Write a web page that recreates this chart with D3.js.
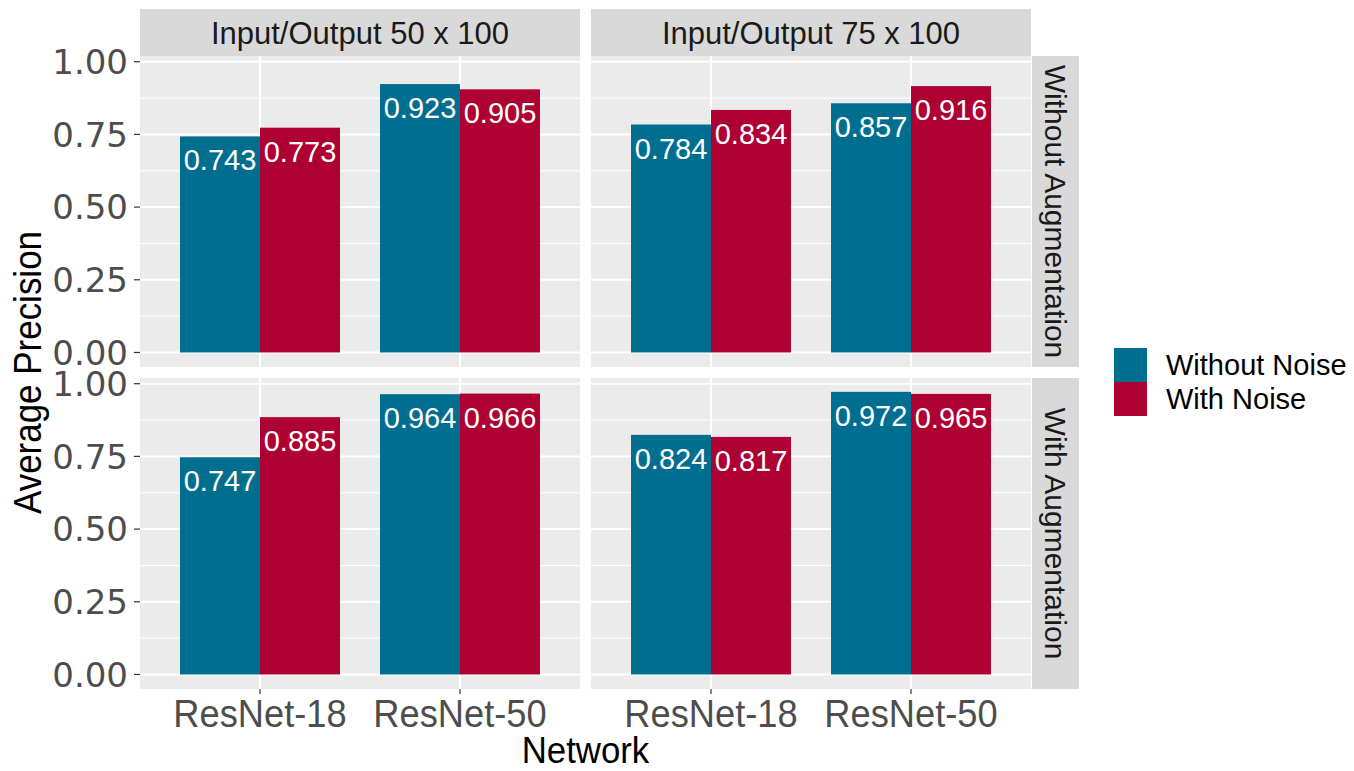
<!DOCTYPE html>
<html><head><meta charset="utf-8">
<script src="https://cdn.jsdelivr.net/npm/d3@7"></script>
<style>body{margin:0;background:#fff}</style>
</head><body><svg id="c" width="1354" height="771"></svg>
<script>
// ---- data ----
const sizeFacets = ["Input/Output 50 x 100", "Input/Output 75 x 100"];
const augFacets = ["Without Augmentation", "With Augmentation"];
const networks = ["ResNet-18", "ResNet-50"];
const noiseLevels = ["Without Noise", "With Noise"];
const yTicks = [0, 0.25, 0.5, 0.75, 1.0];
// values indexed [augmentation][size][network]
const withoutNoise = [
  [[0.743, 0.923], [0.784, 0.857]],
  [[0.747, 0.964], [0.824, 0.972]]
];
const withNoise = [
  [[0.773, 0.905], [0.834, 0.916]],
  [[0.885, 0.966], [0.817, 0.965]]
];
const seriesValues = [withoutNoise, withNoise];
const colors = ["#006E8E", "#AE0033"];

// ---- layout ----
const svg = d3.select("#c");
const panelX = [140, 591];
const panelW = 440;
const panelY = [56, 378];
const panelH = 311;
const stripTop = 9;
const stripRightX = 1032, stripRightW = 47;
const narrow = 0.93;

// ggplot discrete: expansion 0.6 units each side, 1 unit per category
const unit = panelW / 2.2;
const xc = d3.scalePoint().domain(networks).range([unit * 0.6, panelW - unit * 0.6]);
const barW = unit * 0.8 / 2;
const xs = d3.scaleBand().domain(noiseLevels).range([-barW, barW]);
const y = d3.scaleLinear().domain([-0.05, 1.0196]).range([panelH, 0]);

const fmt = d3.format(".3f");
const fmt2 = d3.format(".2f");
const SANS = "Liberation Sans, Arial, sans-serif";

augFacets.forEach((aug, ai) => {
  sizeFacets.forEach((sz, si) => {
    const g = svg.append("g").attr("transform", `translate(${panelX[si]},${panelY[ai]})`);
    g.append("rect").attr("width", panelW).attr("height", panelH).attr("fill", "#EBEBEB");
    const minor = yTicks.slice(0, -1).map(t => t + 0.125);
    g.selectAll(".mn").data(minor).join("line")
      .attr("x1", 0).attr("x2", panelW).attr("y1", d => y(d)).attr("y2", d => y(d))
      .attr("stroke", "#fff").attr("stroke-width", 1);
    g.selectAll(".mj").data(yTicks).join("line")
      .attr("x1", 0).attr("x2", panelW).attr("y1", d => y(d)).attr("y2", d => y(d))
      .attr("stroke", "#fff").attr("stroke-width", 2);
    g.selectAll(".vx").data(networks).join("line")
      .attr("x1", d => xc(d)).attr("x2", d => xc(d)).attr("y1", 0).attr("y2", panelH)
      .attr("stroke", "#fff").attr("stroke-width", 2);
    networks.forEach((net, ni) => {
      noiseLevels.forEach((nz, zi) => {
        const v = seriesValues[zi][ai][si][ni];
        const bx = xc(net) + xs(nz);
        g.append("rect").attr("x", bx).attr("y", y(v)).attr("width", xs.bandwidth())
          .attr("height", y(0) - y(v)).attr("fill", colors[zi]);
        g.append("text").attr("x", bx + xs.bandwidth() / 2).attr("y", y(v) + 34)
          .attr("text-anchor", "middle").attr("fill", "#fff")
          .style("font-family", SANS).style("font-size", "29px")
          .text(fmt(v));
      });
    });
    if (si === 0) {
      const ax = g.append("g");
      yTicks.forEach(t => {
        ax.append("line").attr("x1", -6).attr("x2", 0).attr("y1", y(t)).attr("y2", y(t))
          .attr("stroke", "#333").attr("stroke-width", 1.2);
        ax.append("text").attr("x", -12).attr("y", y(t)).attr("dy", "0.36em")
          .attr("text-anchor", "end").attr("fill", "#4D4D4D")
          .style("font-family", "DejaVu Sans, sans-serif").style("font-size", "34px")
          .text(fmt2(t));
      });
    }
    if (ai === 1) {
      networks.forEach(net => {
        g.append("line").attr("x1", xc(net)).attr("x2", xc(net)).attr("y1", panelH).attr("y2", panelH + 5)
          .attr("stroke", "#333").attr("stroke-width", 1.2);
        g.append("text").attr("transform", `translate(${xc(net)},${727 - panelY[1]}) scale(${narrow},1)`)
          .attr("text-anchor", "middle").attr("fill", "#4D4D4D")
          .style("font-family", SANS).style("font-size", "39px")
          .text(net);
      });
    }
    if (ai === 0) {
      svg.append("rect").attr("x", panelX[si]).attr("y", stripTop).attr("width", panelW).attr("height", panelY[0] - stripTop)
        .attr("fill", "#D9D9D9");
      svg.append("text").attr("x", panelX[si] + panelW / 2).attr("y", (stripTop + panelY[0]) / 2).attr("dy", "0.36em")
        .attr("text-anchor", "middle").attr("fill", "#1A1A1A")
        .style("font-family", SANS).style("font-size", "31px")
        .text(sz);
    }
    if (si === 1) {
      svg.append("rect").attr("x", stripRightX).attr("y", panelY[ai]).attr("width", stripRightW).attr("height", panelH)
        .attr("fill", "#D9D9D9");
      const cx = stripRightX + stripRightW / 2, cy = panelY[ai] + panelH / 2;
      svg.append("text").attr("transform", `translate(${cx},${cy}) rotate(90)`).attr("dy", "0.36em")
        .attr("text-anchor", "middle").attr("fill", "#1A1A1A")
        .style("font-family", SANS).style("font-size", "30px")
        .text(aug);
    }
  });
});

svg.append("text").attr("transform", `translate(${(panelX[0] + panelX[1] + panelW) / 2},763) scale(0.94,1)`)
  .attr("text-anchor", "middle").attr("fill", "#000")
  .style("font-family", SANS).style("font-size", "37px")
  .text("Network");
svg.append("text").attr("transform", `translate(41,${(panelY[0] + panelY[1] + panelH) / 2}) rotate(-90) scale(0.92,1)`)
  .attr("text-anchor", "middle").attr("fill", "#000")
  .style("font-family", SANS).style("font-size", "38px")
  .text("Average Precision");

const lg = svg.append("g").attr("transform", "translate(1114,348)");
noiseLevels.forEach((nz, i) => {
  lg.append("rect").attr("x", 0).attr("y", i * 34).attr("width", 33).attr("height", 34).attr("fill", colors[i]);
  lg.append("text").attr("x", 52).attr("y", i * 34 + 17).attr("dy", "0.36em").attr("fill", "#000")
    .style("font-family", SANS).style("font-size", "29px")
    .text(nz);
});
</script></body></html>
